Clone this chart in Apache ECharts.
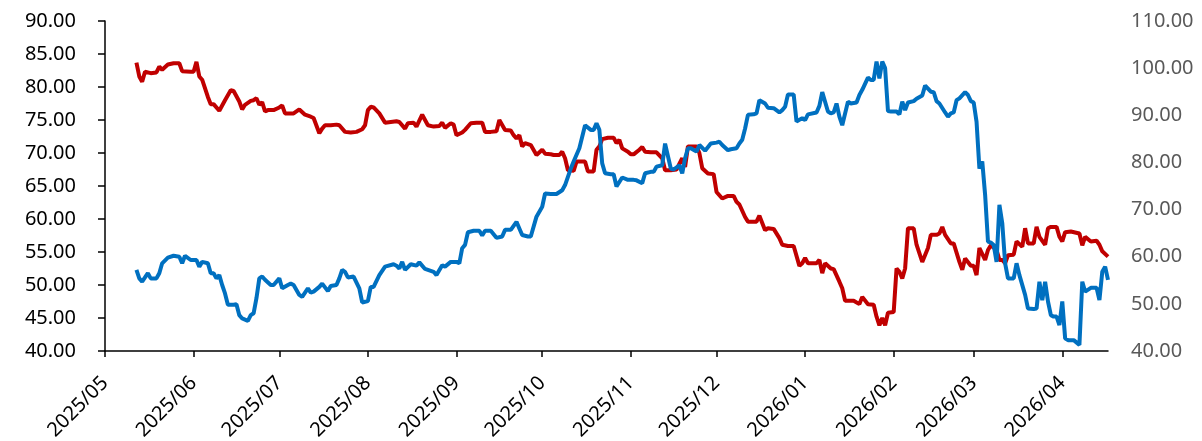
<!DOCTYPE html>
<html>
<head>
<meta charset="utf-8">
<script src="https://cdn.jsdelivr.net/npm/echarts@6/dist/echarts.min.js"></script>
<style>
  html, body { margin: 0; padding: 0; background: #fff; }
  #chart { width: 1202px; height: 441px; }
</style>
</head>
<body>
<div id="chart"></div>
<script>
// month ticks on the x axis
const monthTicks = ['2025-05-01', '2025-06-01', '2025-07-01', '2025-08-01', '2025-09-01', '2025-10-01',
  '2025-11-01', '2025-12-01', '2026-01-01', '2026-02-01', '2026-03-01', '2026-04-01']

// red line (left axis)
const redDates = ['2025-05-12','2025-05-13','2025-05-14','2025-05-15','2025-05-17','2025-05-19','2025-05-20','2025-05-21','2025-05-23','2025-05-25',
  '2025-05-27','2025-05-28','2025-05-31','2025-06-01','2025-06-02','2025-06-03','2025-06-04','2025-06-06','2025-06-07','2025-06-08',
  '2025-06-10','2025-06-12','2025-06-14','2025-06-15','2025-06-17','2025-06-18','2025-06-19','2025-06-21','2025-06-22','2025-06-23',
  '2025-06-24','2025-06-25','2025-06-26','2025-06-27','2025-06-29','2025-07-01','2025-07-02','2025-07-03','2025-07-05','2025-07-06',
  '2025-07-08','2025-07-10','2025-07-12','2025-07-13','2025-07-15','2025-07-16','2025-07-17','2025-07-19','2025-07-21','2025-07-22',
  '2025-07-24','2025-07-26','2025-07-28','2025-07-30','2025-07-31','2025-08-01','2025-08-02','2025-08-03','2025-08-05','2025-08-07',
  '2025-08-09','2025-08-11','2025-08-12','2025-08-14','2025-08-15','2025-08-17','2025-08-18','2025-08-20','2025-08-22','2025-08-24',
  '2025-08-26','2025-08-27','2025-08-28','2025-08-30','2025-08-31','2025-09-01','2025-09-03','2025-09-04','2025-09-06','2025-09-08',
  '2025-09-10','2025-09-11','2025-09-13','2025-09-15','2025-09-16','2025-09-18','2025-09-20','2025-09-21','2025-09-22','2025-09-23',
  '2025-09-24','2025-09-25','2025-09-27','2025-09-29','2025-10-01','2025-10-02','2025-10-04','2025-10-05','2025-10-07','2025-10-08',
  '2025-10-09','2025-10-10','2025-10-12','2025-10-13','2025-10-16','2025-10-17','2025-10-19','2025-10-20','2025-10-21','2025-10-22',
  '2025-10-24','2025-10-26','2025-10-27','2025-10-28','2025-10-29','2025-10-31','2025-11-01','2025-11-02','2025-11-04','2025-11-05',
  '2025-11-06','2025-11-08','2025-11-10','2025-11-12','2025-11-13','2025-11-15','2025-11-17','2025-11-19','2025-11-20','2025-11-21',
  '2025-11-24','2025-11-25','2025-11-26','2025-11-28','2025-11-30','2025-12-01','2025-12-03','2025-12-05','2025-12-07','2025-12-08',
  '2025-12-09','2025-12-11','2025-12-12','2025-12-15','2025-12-16','2025-12-18','2025-12-19','2025-12-21','2025-12-23','2025-12-24',
  '2025-12-26','2025-12-28','2025-12-30','2025-12-31','2026-01-01','2026-01-02','2026-01-05','2026-01-06','2026-01-07','2026-01-08',
  '2026-01-10','2026-01-11','2026-01-13','2026-01-14','2026-01-15','2026-01-16','2026-01-18','2026-01-20','2026-01-21','2026-01-23',
  '2026-01-25','2026-01-26','2026-01-27','2026-01-28','2026-01-29','2026-01-30','2026-02-01','2026-02-02','2026-02-03','2026-02-04',
  '2026-02-05','2026-02-06','2026-02-08','2026-02-09','2026-02-11','2026-02-13','2026-02-14','2026-02-16','2026-02-17','2026-02-18',
  '2026-02-19','2026-02-21','2026-02-22','2026-02-24','2026-02-25','2026-02-26','2026-02-28','2026-03-01','2026-03-02','2026-03-03',
  '2026-03-05','2026-03-06','2026-03-07','2026-03-09','2026-03-10','2026-03-11','2026-03-12','2026-03-13','2026-03-15','2026-03-16',
  '2026-03-18','2026-03-19','2026-03-20','2026-03-22','2026-03-23','2026-03-24','2026-03-26','2026-03-27','2026-03-28','2026-03-30',
  '2026-03-31','2026-04-01','2026-04-02','2026-04-04','2026-04-07','2026-04-08','2026-04-09','2026-04-11','2026-04-13','2026-04-14',
  '2026-04-15','2026-04-17']
const redValues = [83.7,81.6,80.8,82.3,82.1,82.2,83.1,82.6,83.4,83.6,
  83.6,82.4,82.3,82.3,83.8,81.6,81.1,78.5,77.4,77.4,
  76.4,78.0,79.5,79.4,77.8,76.6,77.3,77.9,78.0,78.3,
  77.3,77.7,76.3,76.5,76.5,76.9,77.2,76.0,76.0,76.0,
  76.6,75.8,75.5,75.3,73.0,73.7,74.2,74.2,74.3,74.2,
  73.2,73.1,73.2,73.6,74.2,76.5,77.0,76.9,76.0,74.6,
  74.7,74.8,74.7,73.7,74.5,74.6,74.0,75.8,74.2,74.0,
  74.1,74.6,73.8,74.5,74.3,72.7,73.1,73.5,74.5,74.6,
  74.6,73.2,73.2,73.3,75.0,73.5,73.4,72.7,72.2,72.7,
  71.0,71.5,71.2,69.7,70.5,69.9,69.8,69.7,69.7,70.2,
  69.2,67.4,67.3,68.7,68.7,67.2,67.2,70.5,71.0,72.1,
  72.3,72.3,71.5,72.0,70.7,70.2,69.8,69.8,70.5,70.9,
  70.2,70.1,70.1,69.2,67.4,67.4,67.5,69.2,67.9,71.0,
  71.0,70.0,67.7,66.9,66.8,64.1,63.1,63.5,63.5,62.6,
  62.2,60.3,59.6,59.6,60.5,58.3,58.6,58.5,57.1,56.1,
  55.9,55.9,52.9,53.3,54.1,53.3,53.3,53.8,51.8,53.3,
  52.5,52.4,50.5,49.5,47.6,47.6,47.6,47.1,48.2,47.1,
  47.0,45.2,43.9,45.0,43.9,45.8,45.9,52.5,52.0,51.0,
  52.5,58.6,58.6,56.1,53.5,55.6,57.6,57.6,57.8,58.8,
  57.6,56.3,56.3,53.5,52.3,54.0,52.9,52.9,51.5,55.6,
  53.8,55.3,56.0,55.3,53.8,53.8,53.3,54.5,54.6,56.6,
  55.8,58.6,56.3,56.3,58.8,57.3,56.1,58.6,58.8,58.8,
  57.3,56.6,58.0,58.1,57.8,56.0,57.3,56.6,56.7,56.1,
  55.1,54.3]

// blue line (right axis)
const blueDates = ['2025-05-12','2025-05-13','2025-05-14','2025-05-16','2025-05-17','2025-05-19','2025-05-20','2025-05-21','2025-05-23','2025-05-25',
  '2025-05-27','2025-05-28','2025-05-29','2025-05-31','2025-06-02','2025-06-03','2025-06-04','2025-06-06','2025-06-07','2025-06-08',
  '2025-06-09','2025-06-10','2025-06-11','2025-06-12','2025-06-13','2025-06-15','2025-06-16','2025-06-17','2025-06-18','2025-06-20',
  '2025-06-21','2025-06-22','2025-06-23','2025-06-24','2025-06-25','2025-06-26','2025-06-28','2025-06-29','2025-07-01','2025-07-02',
  '2025-07-04','2025-07-05','2025-07-06','2025-07-08','2025-07-09','2025-07-11','2025-07-12','2025-07-13','2025-07-15','2025-07-16',
  '2025-07-18','2025-07-19','2025-07-21','2025-07-22','2025-07-23','2025-07-24','2025-07-25','2025-07-27','2025-07-29','2025-07-30',
  '2025-08-01','2025-08-02','2025-08-03','2025-08-05','2025-08-07','2025-08-10','2025-08-11','2025-08-12','2025-08-13','2025-08-14',
  '2025-08-16','2025-08-18','2025-08-19','2025-08-21','2025-08-23','2025-08-24','2025-08-25','2025-08-27','2025-08-28','2025-08-30',
  '2025-09-01','2025-09-02','2025-09-03','2025-09-04','2025-09-05','2025-09-07','2025-09-09','2025-09-10','2025-09-11','2025-09-13',
  '2025-09-15','2025-09-17','2025-09-18','2025-09-20','2025-09-22','2025-09-23','2025-09-24','2025-09-26','2025-09-27','2025-09-29',
  '2025-10-01','2025-10-02','2025-10-04','2025-10-06','2025-10-08','2025-10-09','2025-10-11','2025-10-12','2025-10-14','2025-10-16',
  '2025-10-18','2025-10-19','2025-10-20','2025-10-21','2025-10-22','2025-10-23','2025-10-25','2025-10-26','2025-10-27','2025-10-29',
  '2025-10-31','2025-11-02','2025-11-03','2025-11-05','2025-11-06','2025-11-08','2025-11-09','2025-11-10','2025-11-12','2025-11-13',
  '2025-11-15','2025-11-16','2025-11-18','2025-11-19','2025-11-20','2025-11-21','2025-11-22','2025-11-24','2025-11-25','2025-11-27',
  '2025-11-29','2025-12-01','2025-12-02','2025-12-03','2025-12-05','2025-12-06','2025-12-08','2025-12-09','2025-12-10','2025-12-11',
  '2025-12-12','2025-12-14','2025-12-15','2025-12-16','2025-12-18','2025-12-19','2025-12-21','2025-12-23','2025-12-24','2025-12-25',
  '2025-12-26','2025-12-28','2025-12-29','2025-12-31','2026-01-01','2026-01-02','2026-01-05','2026-01-06','2026-01-07','2026-01-09',
  '2026-01-10','2026-01-11','2026-01-12','2026-01-13','2026-01-14','2026-01-16','2026-01-17','2026-01-19','2026-01-20','2026-01-21',
  '2026-01-23','2026-01-24','2026-01-25','2026-01-26','2026-01-27','2026-01-28','2026-01-29','2026-01-30','2026-01-31','2026-02-02',
  '2026-02-03','2026-02-04','2026-02-05','2026-02-06','2026-02-08','2026-02-09','2026-02-11','2026-02-12','2026-02-14','2026-02-15',
  '2026-02-16','2026-02-17','2026-02-19','2026-02-20','2026-02-21','2026-02-22','2026-02-23','2026-02-24','2026-02-26','2026-02-27',
  '2026-02-28','2026-03-01','2026-03-02','2026-03-03','2026-03-04','2026-03-05','2026-03-06','2026-03-07','2026-03-08','2026-03-09',
  '2026-03-10','2026-03-11','2026-03-12','2026-03-13','2026-03-15','2026-03-16','2026-03-17','2026-03-19','2026-03-20','2026-03-22',
  '2026-03-23','2026-03-24','2026-03-25','2026-03-26','2026-03-27','2026-03-28','2026-03-29','2026-03-30','2026-03-31','2026-04-01',
  '2026-04-02','2026-04-03','2026-04-05','2026-04-07','2026-04-08','2026-04-09','2026-04-11','2026-04-13','2026-04-14','2026-04-15',
  '2026-04-16','2026-04-17']
const blueValues = [57.2,55.4,54.7,56.5,55.4,55.4,56.5,58.6,59.8,60.2,
  60.0,58.6,60.2,59.3,59.3,57.9,58.9,58.6,56.5,56.5,
  55.4,56.1,54.0,52.2,49.8,49.8,49.9,47.6,46.9,46.4,
  47.6,48.0,51.2,55.4,55.8,55.1,54.0,54.0,55.4,53.3,
  54.0,54.3,54.0,51.9,51.5,53.3,52.4,52.6,53.6,54.3,
  52.7,53.8,54.0,55.4,57.2,56.8,55.6,55.8,53.3,50.3,
  50.6,53.6,53.6,56.1,57.9,58.4,58.1,57.5,58.9,57.2,
  58.4,58.1,58.8,57.4,57.0,56.8,56.1,58.2,57.9,58.9,
  58.9,58.6,61.8,62.5,65.2,65.5,65.5,64.5,65.5,65.5,
  64.0,64.3,65.7,65.7,67.4,66.0,64.6,64.3,64.3,68.5,
  70.6,73.4,73.3,73.3,74.1,75.2,78.7,80.2,83.0,87.9,
  86.9,86.9,88.3,86.9,79.8,77.7,77.5,77.5,74.9,76.8,
  76.3,76.3,76.2,75.6,77.7,78.0,78.0,79.1,79.4,84.0,
  78.7,78.5,79.4,77.7,80.9,83.0,83.0,82.3,83.7,82.5,
  84.0,84.2,84.4,83.7,82.6,82.8,83.0,84.0,84.8,87.2,
  90.1,90.2,90.4,93.2,92.5,91.6,91.5,90.6,91.1,91.8,
  94.4,94.4,88.7,89.4,89.0,90.2,90.6,92.0,94.9,90.8,
  90.4,90.6,92.5,89.7,87.9,92.9,92.5,92.7,94.3,95.4,
  98.0,97.5,97.5,101.4,97.8,101.4,100.0,90.9,90.8,90.8,
  90.2,92.9,91.1,92.7,93.0,93.5,94.2,96.3,95.0,94.9,
  93.0,92.5,90.6,89.7,90.4,90.6,93.2,93.6,94.9,94.3,
  93.0,92.7,88.6,78.7,80.2,73.1,63.2,63.0,62.5,58.9,
  71.0,67.1,58.6,55.4,55.4,58.6,56.1,51.9,49.0,48.9,
  49.0,54.7,50.8,54.7,50.5,47.6,47.3,47.3,45.5,50.5,
  42.7,42.3,42.3,41.3,54.7,52.6,53.4,53.4,50.8,56.8,
  57.9,55.1]

const font = 'Noto Sans'

// dates become timestamps on a plain value axis, so month ticks can be placed exactly
function toTime(s) {
  return +echarts.time.parse(s)
}

function pairUp(dates, values) {
  return dates.map((d, i) => [toTime(d), values[i]])
}

function monthLabel(v) {
  const d = new Date(v)
  return d.getFullYear() + '/' + String(d.getMonth() + 1).padStart(2, '0')
}

const tickTimes = monthTicks.map(toTime)

const chart = echarts.init(document.getElementById('chart'))
const option = {
  animation: false,
  backgroundColor: '#fff',
  grid: { left: 105, right: 94, top: 21, bottom: 90, outerBoundsMode: 'none' },
  xAxis: {
    type: 'value',
    min: toTime('2025-05-01'),
    max: toTime('2026-04-17'),
    splitLine: { show: false },
    axisLine: { lineStyle: { color: '#000', width: 1.5 } },
    axisTick: { show: true, length: 6, customValues: tickTimes, lineStyle: { color: '#000', width: 1.5 } },
    axisLabel: {
      customValues: tickTimes,
      formatter: monthLabel,
      rotate: 45,
      margin: 29,
      color: '#000',
      fontFamily: font,
      fontSize: 20
    }
  },
  yAxis: [
    {
      type: 'value',
      min: 40,
      max: 90,
      interval: 5,
      splitLine: { show: false },
      axisLine: { show: true, lineStyle: { color: '#000', width: 1.5 } },
      axisTick: { show: true, length: 7, lineStyle: { color: '#000', width: 1.5 } },
      axisLabel: {
        formatter: v => v.toFixed(2),
        margin: 29,
        color: '#000',
        fontFamily: font,
        fontSize: 20
      }
    },
    {
      type: 'value',
      min: 40,
      max: 110,
      interval: 10,
      splitLine: { show: false },
      axisLine: { show: false },
      axisTick: { show: false },
      axisLabel: {
        formatter: v => v.toFixed(2),
        margin: 23,
        color: '#595959',
        fontFamily: font,
        fontSize: 20
      }
    }
  ],
  series: [
    {
      type: 'line',
      yAxisIndex: 0,
      data: pairUp(redDates, redValues),
      showSymbol: false,
      lineStyle: { color: '#C00000', width: 4 },
      itemStyle: { color: '#C00000' }
    },
    {
      type: 'line',
      yAxisIndex: 1,
      data: pairUp(blueDates, blueValues),
      showSymbol: false,
      lineStyle: { color: '#0070C0', width: 4 },
      itemStyle: { color: '#0070C0' }
    }
  ]
}
chart.setOption(option)
</script>
</body>
</html>
